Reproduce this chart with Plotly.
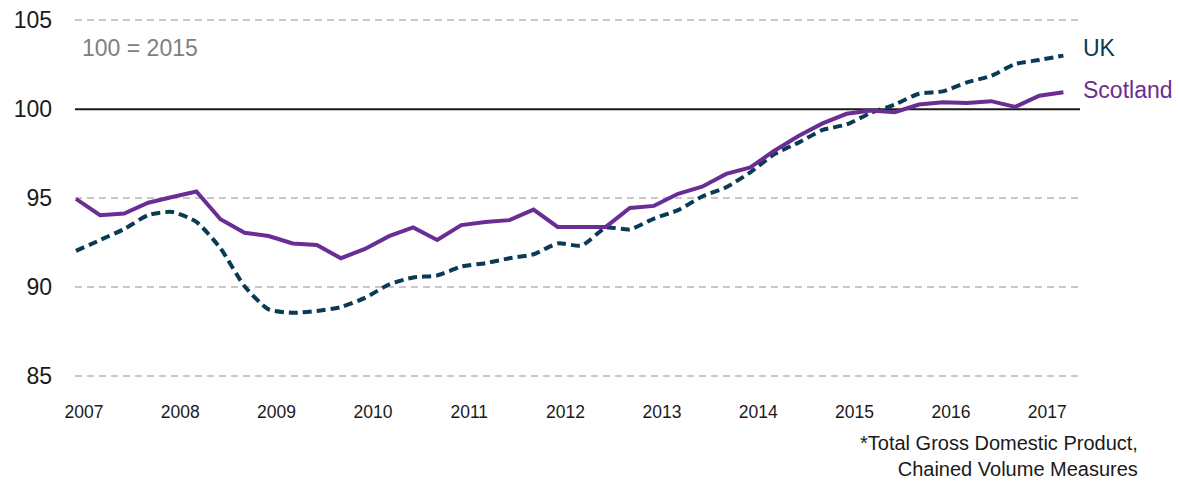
import plotly.graph_objects as go

years = list(range(2007, 2018))
quarters = [f"{y} Q{q}" for y in range(2007, 2018) for q in range(1, 5)][:42]

scotland = [94.97, 94.05, 94.14, 94.75, 95.07, 95.38, 93.82, 93.06, 92.88, 92.46,
            92.37, 91.63, 92.15, 92.87, 93.36, 92.65, 93.49, 93.67, 93.77, 94.36,
            93.39, 93.39, 93.39, 94.45, 94.57, 95.25, 95.65, 96.37, 96.74, 97.67,
            98.50, 99.21, 99.75, 99.93, 99.84, 100.27, 100.40, 100.36, 100.46, 100.14,
            100.77, 100.96]
uk = [92.04, 92.65, 93.27, 94.05, 94.23, 93.67, 92.19, 90.05, 88.75, 88.56,
      88.66, 88.88, 89.40, 90.15, 90.55, 90.66, 91.16, 91.35, 91.63, 91.85,
      92.46, 92.34, 93.34, 93.25, 93.86, 94.33, 95.10, 95.62, 96.46, 97.48,
      98.13, 98.84, 99.15, 99.80, 100.27, 100.88, 101.01, 101.52, 101.88, 102.55,
      102.78, 103.02]
y_ticks = [85, 90, 95, 100, 105]
grid_ticks = [85, 90, 95, 105]
base_value = 100

x_idx = list(range(len(quarters)))
UK_COL = "#0b3a55"
SCOT_COL = "#6a2d94"
FONT = "Liberation Sans, Arial, sans-serif"
Y_RANGE = [84.5, 105.53]

fig = go.Figure()
fig.add_trace(go.Scatter(x=x_idx, y=uk, mode="lines", name="UK", text=quarters,
                         line=dict(color=UK_COL, width=4, dash="9px,5px",
                                   shape="spline", smoothing=0.6)))
fig.add_trace(go.Scatter(x=x_idx, y=scotland, mode="lines", name="Scotland", text=quarters,
                         line=dict(color=SCOT_COL, width=4)))

# baseline at 100 (below the data lines)
fig.add_shape(type="line", xref="paper", yref="y", x0=0, x1=1, y0=base_value, y1=base_value,
              line=dict(color="#1a1a1a", width=2), layer="below")

fig.update_layout(
    width=1179, height=482,
    margin=dict(l=75, r=99, t=8, b=97),
    paper_bgcolor="white", plot_bgcolor="white",
    showlegend=False,
    font=dict(family=FONT, color="#1a1a1a"),
    xaxis=dict(range=[-0.04, 41.69], showgrid=False, zeroline=False, showline=False,
               tickmode="array", tickvals=[0.33 + 4 * k for k in range(len(years))],
               ticktext=[str(y) for y in years], ticks="",
               tickfont=dict(size=17.5, color="#1a1a1a", family=FONT),
               ticklabelstandoff=14),
    yaxis=dict(range=Y_RANGE, tickmode="array", tickvals=y_ticks,
               showgrid=False, zeroline=False, showline=False, ticks="",
               tickfont=dict(size=23, color="#1a1a1a", family=FONT),
               ticklabelstandoff=22),
    yaxis2=dict(range=Y_RANGE, overlaying="y", tickmode="array", tickvals=grid_ticks,
                showgrid=True, gridcolor="#c8c8c8", gridwidth=2, griddash="7px,5px",
                zeroline=False, showline=False, ticks="", showticklabels=False),
)
# invisible trace to activate the grid axis
fig.add_trace(go.Scatter(x=[x_idx[0]], y=[y_ticks[0]], yaxis="y2", mode="markers",
                         marker=dict(opacity=0), hoverinfo="skip", showlegend=False))

fig.add_annotation(x=x_idx[-1], y=uk[-1], xref="x", yref="y", text="UK",
                   showarrow=False, xanchor="left", xshift=18, yshift=8,
                   font=dict(size=23, color=UK_COL, family=FONT))
fig.add_annotation(x=x_idx[-1], y=scotland[-1], xref="x", yref="y", text="Scotland",
                   showarrow=False, xanchor="left", xshift=18, yshift=2,
                   font=dict(size=23, color=SCOT_COL, family=FONT))
fig.add_annotation(x=0.005, y=0.902, xref="paper", yref="paper", text="100 = 2015",
                   showarrow=False, xanchor="left", yanchor="middle",
                   font=dict(size=23, color="#808080", family=FONT))
fig.add_annotation(x=1.0597, y=-0.191, xref="paper", yref="paper",
                   text="*Total Gross Domestic Product,<br>Chained Volume Measures",
                   showarrow=False, xanchor="right", yanchor="middle", align="right",
                   font=dict(size=20, color="#1a1a1a", family=FONT))

fig.write_html("out.html", config={"displayModeBar": False},
               post_script="document.body.style.margin='0';document.body.style.overflow='hidden';")
